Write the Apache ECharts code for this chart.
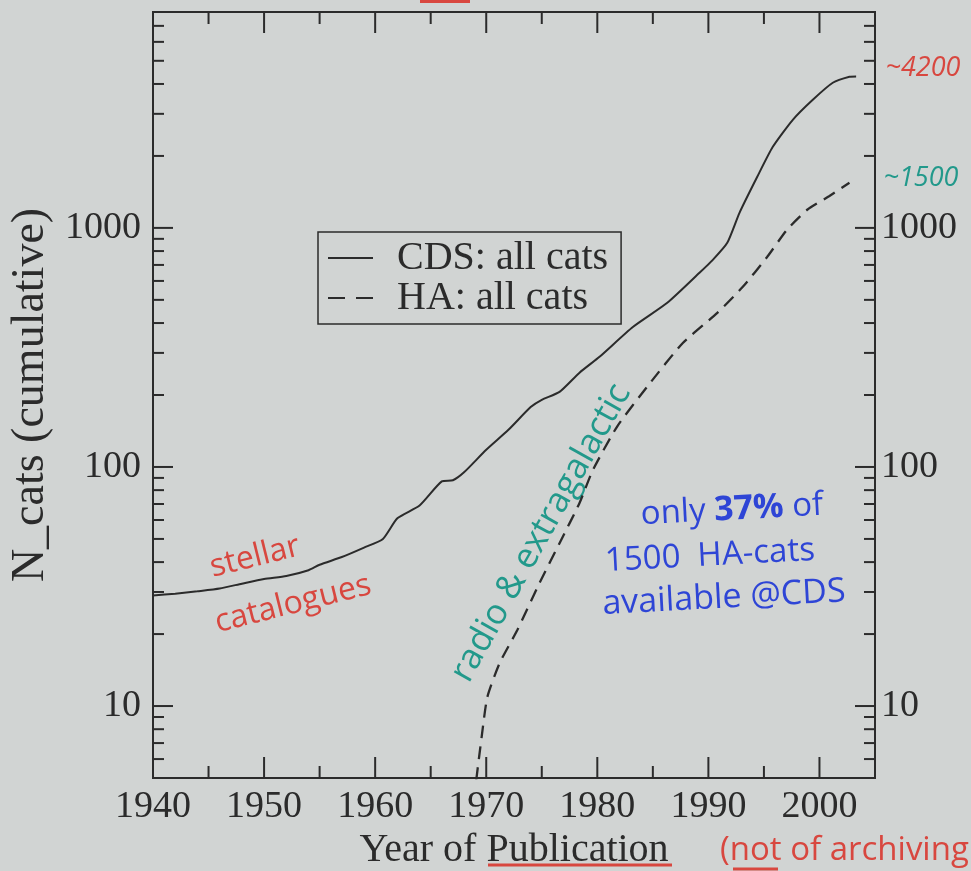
<!DOCTYPE html>
<html>
<head>
<meta charset="utf-8">
<title>N_cats (cumulative)</title>
<script src="https://cdn.jsdelivr.net/npm/echarts@6.0.0/dist/echarts.min.js"></script>
<style>
html, body { margin: 0; padding: 0; background: #d1d4d3; }
#chart { width: 971px; height: 871px; }
</style>
</head>
<body>
<div id="chart"></div>
<script>
// CDS: all catalogues (cumulative)
var cdsYears = [1940, 1942, 1944, 1946, 1948, 1950, 1952, 1954, 1955, 1957, 1959, 1960.7, 1962, 1964, 1966, 1967,
    1968, 1970, 1972, 1974, 1975, 1976.6, 1978.4, 1980.2, 1983.2, 1986.3, 1989.2, 1990.4, 1991.7, 1992.8, 1994.4,
    1995.8, 1997.6, 1999.4, 2001.2, 2002.7, 2003.3];
var cdsCats = [29, 29.5, 30.2, 31, 32.5, 34, 35, 37, 39, 42, 46, 50, 61, 69, 87, 88,
    95, 118, 143, 178, 191, 206, 248, 289, 385, 486, 649, 735, 866, 1156, 1636,
    2183, 2833, 3436, 4047, 4286, 4300];
// HA: all catalogues (cumulative)
var haYears = [1969.1, 1969.6, 1970.1, 1971.2, 1972.8, 1974.8, 1976.6, 1978.4, 1979.6, 1981.8, 1984.6, 1987.7,
    1990.8, 1993.1, 1995.3, 1997.1, 1998.9, 2000.9, 2002.7];
var haCats = [4.9, 7.5, 10.9, 15.1, 20.8, 32.7, 48, 70.7, 97, 148, 220, 330,
    441, 567, 757, 985, 1191, 1360, 1544];

var xLabels = [1940, 1950, 1960, 1970, 1980, 1990, 2000];
var xMinorTicks = [1945, 1955, 1965, 1975, 1985, 1995];
var yLabels = [10, 100, 1000];
var yMinorTicks = [6, 7, 8, 9, 20, 30, 40, 50, 60, 70, 80, 90,
    200, 300, 400, 500, 600, 700, 800, 900, 2000, 3000, 4000, 5000, 6000, 7000];

var ink = '#2b2b2b';
var red = '#d8473f';
var teal = '#22998b';
var blue = '#2e45d6';
var serif = 'Liberation Serif';
var hand = 'Open Sans';

function pairs(xs, ys) {
    var out = [];
    for (var i = 0; i < xs.length; i++) {
        out.push([xs[i], ys[i]]);
    }
    return out;
}

//tick marks on all four sides, inside the frame
function tickSeries(vals, axis, len) {
    return {
        type: 'custom',
        silent: true,
        z: 5,
        clip: false,
        data: vals.map(function (v) { return axis === 'x' ? [v, 10] : [1950, v]; }),
        renderItem: function (params, api) {
            var p = api.coord([api.value(0), api.value(1)]);
            var cs = params.coordSys;
            var st = {stroke: ink, lineWidth: 2};
            if (axis === 'x') {
                var yb = cs.y + cs.height, yt = cs.y;
                return {type: 'group', children: [
                    {type: 'line', shape: {x1: p[0], y1: yb, x2: p[0], y2: yb - len}, style: st},
                    {type: 'line', shape: {x1: p[0], y1: yt, x2: p[0], y2: yt + len}, style: st}
                ]};
            }
            var xl = cs.x, xr = cs.x + cs.width;
            return {type: 'group', children: [
                {type: 'line', shape: {x1: xl, y1: p[1], x2: xl + len, y2: p[1]}, style: st},
                {type: 'line', shape: {x1: xr, y1: p[1], x2: xr - len, y2: p[1]}, style: st}
            ]};
        }
    };
}

function yFormatter(v) {
    for (var i = 0; i < yLabels.length; i++) {
        if (Math.abs(v - yLabels[i]) < yLabels[i] * 1e-6) return String(yLabels[i]);
    }
    return '';
}

function xFormatter(v) {
    return xLabels.indexOf(Math.round(v)) >= 0 ? String(Math.round(v)) : '';
}

var labelStyle = {fontFamily: serif, fontSize: 38, color: ink};

function yAxis(pos) {
    return {
        type: 'log',
        position: pos,
        min: 5,
        max: 8000,
        axisLine: {show: false},
        axisTick: {show: false},
        splitLine: {show: false},
        axisLabel: Object.assign({margin: pos === 'left' ? 12 : 6, formatter: yFormatter}, labelStyle),
        name: pos === 'left' ? 'N_cats (cumulative)' : '',
        nameLocation: 'middle',
        nameGap: 95,
        nameTextStyle: {fontFamily: serif, fontSize: 46, color: ink}
    };
}

var chart = echarts.init(document.getElementById('chart'));
var option = {
    backgroundColor: '#d1d4d3',
    animation: false,
    grid: {
        left: 153, right: 96, top: 12, bottom: 93,
        show: true, borderColor: ink, borderWidth: 2, backgroundColor: 'transparent',
        outerBoundsMode: 'none'
    },
    legend: {
        orient: 'vertical',
        left: 318,
        top: 232,
        padding: [6, 13, 6, 10],
        itemGap: 0,
        itemWidth: 45,
        itemHeight: 2,
        borderColor: ink,
        borderWidth: 1.5,
        formatter: '{t|{name}}',
        textStyle: {
            color: ink,
            rich: {t: {fontFamily: serif, fontSize: 40, color: ink, lineHeight: 38, padding: [0, 0, 0, 19]}}
        },
        data: [
            {name: 'CDS: all cats', icon: 'path://M0,0h45v2h-45z'},
            {name: 'HA: all cats', icon: 'path://M0,0h17v2h-17zM28,0h17v2h-17z'}
        ]
    },
    xAxis: {
        type: 'value',
        min: 1940,
        max: 2005,
        interval: 10,
        axisLine: {show: false},
        axisTick: {show: false},
        splitLine: {show: false},
        axisLabel: Object.assign({margin: 10, formatter: xFormatter}, labelStyle),
        name: 'Year of Publication',
        nameLocation: 'middle',
        nameGap: 46,
        nameTextStyle: {fontFamily: serif, fontSize: 40, color: ink, verticalAlign: 'top'}
    },
    yAxis: [yAxis('left'), yAxis('right')],
    series: [
        {
            name: 'CDS: all cats',
            type: 'line',
            data: pairs(cdsYears, cdsCats),
            showSymbol: false,
            symbol: 'none',
            smooth: 0.2,
            lineStyle: {color: ink, width: 2},
            itemStyle: {color: ink},
            z: 3
        },
        {
            name: 'HA: all cats',
            type: 'line',
            data: pairs(haYears, haCats),
            showSymbol: false,
            symbol: 'none',
            smooth: 0.2,
            lineStyle: {color: ink, width: 2.3, type: [13, 8]},
            itemStyle: {color: ink},
            z: 3
        },
        tickSeries(xLabels, 'x', 21),
        tickSeries(xMinorTicks, 'x', 12),
        tickSeries(yLabels, 'y', 20),
        tickSeries(yMinorTicks, 'y', 11)
    ],
    graphic: [
        //handwritten notes
        {type: 'rect', shape: {x: 420, y: 0, width: 50, height: 3}, style: {fill: red}},
        {type: 'text', x: 923, y: 68, style: {text: '~4200', fill: red, fontFamily: hand, fontStyle: 'italic', fontSize: 27, align: 'center', verticalAlign: 'middle'}},
        {type: 'text', x: 921, y: 178, style: {text: '~1500', fill: teal, fontFamily: hand, fontStyle: 'italic', fontSize: 27, align: 'center', verticalAlign: 'middle'}},
        {type: 'text', x: 255, y: 557, rotation: 14 * Math.PI / 180, style: {text: 'stellar', fill: red, fontFamily: hand, fontSize: 32, align: 'center', verticalAlign: 'middle'}},
        {type: 'text', x: 293, y: 604, rotation: 14 * Math.PI / 180, style: {text: 'catalogues', fill: red, fontFamily: hand, fontSize: 32, align: 'center', verticalAlign: 'middle'}},
        {type: 'text', x: 541, y: 533, rotation: 61 * Math.PI / 180, style: {text: 'radio & extragalactic', fill: teal, fontFamily: hand, fontSize: 35, align: 'center', verticalAlign: 'middle'}},
        {type: 'text', x: 732, y: 510, rotation: 3 * Math.PI / 180, style: {
            text: '{a|only }{b|37%}{a| of}', align: 'center', verticalAlign: 'middle',
            rich: {a: {fill: blue, fontFamily: hand, fontSize: 33}, b: {fill: blue, fontFamily: hand, fontSize: 34, fontWeight: 'bold'}}
        }},
        {type: 'text', x: 710, y: 556, rotation: 3 * Math.PI / 180, style: {text: '1500  HA-cats', fill: blue, fontFamily: hand, fontSize: 33, align: 'center', verticalAlign: 'middle'}},
        {type: 'text', x: 724, y: 598, rotation: 3 * Math.PI / 180, style: {text: 'available @CDS', fill: blue, fontFamily: hand, fontSize: 34, align: 'center', verticalAlign: 'middle'}},
        {type: 'text', x: 720, y: 851, style: {text: '(not of archiving', fill: red, fontFamily: hand, fontSize: 33, align: 'left', verticalAlign: 'middle'}},
        {type: 'line', shape: {x1: 733, y1: 869, x2: 778, y2: 869}, style: {stroke: red, lineWidth: 3}},
        {type: 'line', shape: {x1: 488, y1: 865, x2: 672, y2: 865}, style: {stroke: red, lineWidth: 3}}
    ]
};
chart.setOption(option);
</script>
</body>
</html>
